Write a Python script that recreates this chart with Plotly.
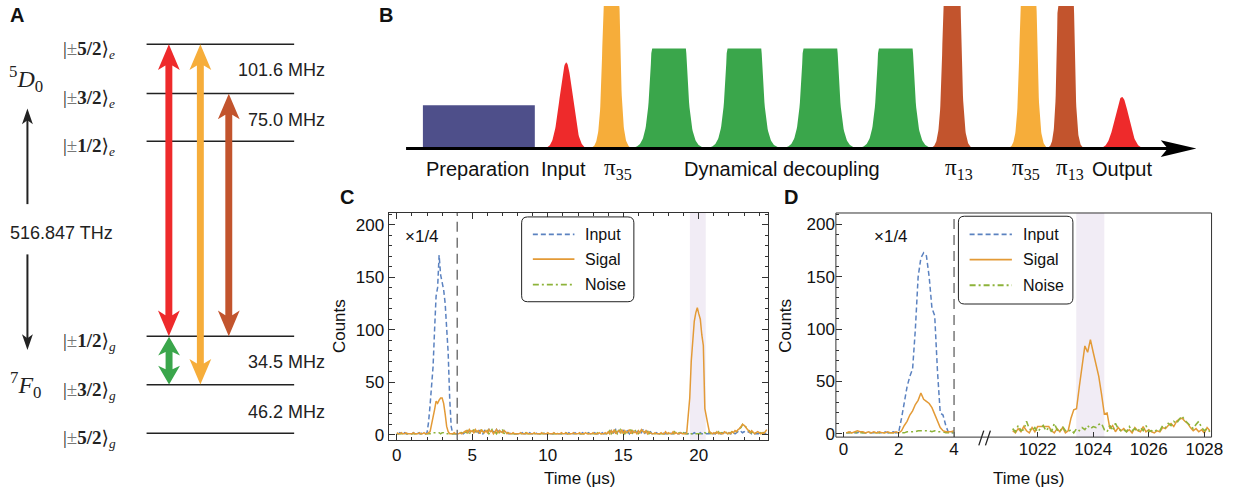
import numpy as np
import plotly.graph_objects as go

W, H = 1250, 502
SANS = "Liberation Sans, Arial, sans-serif"
SERIF = "Liberation Serif, DejaVu Serif, serif"

RED = "#EE2A2B"
ORANGE = "#F6AD3A"
BROWN = "#C2542D"
GREEN = "#3AA64B"
NAVY = "#4E4F8A"
C_IN = "#5B82C0"
C_SIG = "#E39A36"
C_NOISE = "#8DB33A"

# ---------------- Panel C data (0.1 us bins starting at 0) ----------------
c_input = [
 1,1,2,1,1,2,1,1,2,1,
 1,2,1,1,2,1,1,2,1,1,
 2,12,28,45,65,100,132,140,171,152,
 145,138,125,100,78,35,8,1,1,1,
 1,1,1,2,1,2,3,2,4,3,
 2,4,3,5,2,4,3,1,4,2,
 3,5,2,4,3,2,5,3,4,2,
 3,4,2,3,1,1,2,1,1,1,
 1,1,1,2,1,1,1,1,2,1,
 1,1,2,1,1,1,1,2,1,1,
 1,2,1,1,1,2,1,1,1,1,
 2,1,1,1,2,1,1,1,2,1,
 1,1,1,2,1,1,1,2,1,1,
 1,2,1,1,1,1,2,1,1,2,
 3,2,4,1,3,5,2,4,3,2,
 4,2,5,3,1,4,2,5,3,2,
 4,3,2,5,1,3,4,2,3,1,
 1,1,2,1,1,1,2,1,1,1,
 1,2,1,1,2,1,1,1,2,1,
 1,2,1,1,2,1,1,2,1,1,
 1,2,1,1,2,1,1,1,2,1,
 1,1,2,1,1,1,2,1,1,1,
 2,1,1,2,1,2,3,2,3,2,
 3,2,2,3,2,1,2,1,1,1,
 1,1,1,2,1,2]
c_signal = [
 2,1,1,2,1,1,2,1,1,1,
 1,2,1,1,1,2,1,1,2,1,
 1,2,3,10,16,24,32,30,33,35,
 35,30,20,8,3,1,1,1,2,1,
 1,1,2,1,2,3,4,2,5,3,
 4,2,5,3,4,1,5,3,2,4,
 2,5,3,4,1,3,5,2,4,3,
 2,4,3,1,2,1,1,2,1,1,
 1,1,2,1,1,1,2,1,1,1,
 1,2,1,1,1,1,2,1,1,1,
 2,1,1,1,2,1,1,1,1,2,
 1,1,2,1,1,1,1,2,1,1,
 1,2,1,1,1,2,1,1,1,1,
 2,1,1,1,2,1,1,1,2,1,
 3,1,4,2,5,1,3,4,2,5,
 1,4,2,3,5,1,4,2,3,1,
 4,2,5,3,2,4,1,3,2,1,
 1,2,1,1,1,2,1,1,3,1,
 2,1,1,3,1,2,1,1,2,1,
 1,1,2,20,35,70,95,108,116,121,
 115,110,95,85,25,16,10,3,2,1,
 2,1,3,1,2,1,1,3,2,1,
 2,1,3,2,4,3,5,6,8,10,
 9,7,5,3,2,4,2,1,2,3,
 2,1,2,1,3,5]
c_noise = [
 1,1,1,1,1,1,1,1,1,1,
 1,1,1,1,1,1,1,1,1,1,
 1,1,1,1,2,2,2,2,2,1,
 2,2,1,1,1,1,1,1,1,1,
 1,1,1,2,1,3,2,4,1,3,
 2,5,1,3,4,2,5,1,3,2,
 4,1,3,5,2,3,1,4,2,3,
 5,1,3,2,1,1,1,1,1,1,
 1,1,1,1,1,2,1,1,1,1,
 1,1,1,1,1,1,1,1,2,1,
 1,1,1,1,1,1,1,2,1,1,
 1,1,2,1,1,1,1,1,1,1,
 1,1,1,1,1,1,2,1,1,1,
 1,1,1,2,1,1,1,1,1,1,
 2,4,1,3,2,4,1,3,5,2,
 3,1,4,2,3,5,1,3,4,2,
 1,3,4,2,3,2,4,1,2,1,
 1,1,1,1,1,1,1,1,2,1,
 1,1,2,1,3,1,1,2,1,1,
 2,1,1,1,2,1,1,1,1,1,
 1,1,1,1,2,1,1,3,1,2,
 1,2,1,3,1,2,1,1,2,3,
 1,2,3,2,4,3,5,6,7,10,
 9,8,6,4,3,2,3,1,2,2,
 1,2,1,2,3,2]
c_time = np.round(0.1 * np.arange(len(c_input)), 2)

# ---------------- Panel D data ----------------
d_left_time = np.round(0.1 + 0.1 * np.arange(40), 2)
d_input = [
 1,1,2,1,1,2,1,1,2,1,
 1,2,1,1,2,1,1,2,1,2,
 15,30,45,55,62,100,150,168,173,170,
 150,120,113,60,20,18,8,1,1,1]
d_signal_left = [
 1,2,1,2,3,2,2,1,2,1,
 2,1,2,1,1,2,1,1,2,1,
 3,8,12,18,22,28,32,39,33,31,
 29,25,19,12,6,3,2,2,2,3]
d_noise_left = [
 1,1,1,1,1,1,1,1,1,1,
 1,1,1,1,1,1,1,1,1,1,
 1,1,2,2,2,2,3,3,3,3,
 3,2,3,2,2,2,1,1,1,1]
d_right_time = np.round(1021.1 + 0.1 * np.arange(72), 2)
d_signal_right = [
 3,1,5,2,7,3,1,6,2,7,
 7,7,7,7,3,1,5,2,6,1,
 3,15,23,24,45,65,84,78,90,78,
 66,55,38,19,20,5,8,2,6,3,
 5,2,4,1,6,3,2,7,2,4,
 2,1,3,2,6,5,8,10,7,12,
 14,15,12,10,6,3,5,2,4,1,
 6,3]
d_noise_right = [
 5,2,8,3,4,12,5,3,6,2,
 5,8,3,6,2,10,4,2,7,3,
 2,4,1,5,3,6,4,8,5,7,
 6,9,10,4,2,8,3,10,5,3,
 4,2,7,3,5,2,6,3,8,2,
 3,2,4,3,8,6,10,8,12,10,
 14,17,13,10,8,5,9,12,6,3,
 5,2]

# ---------------- Panel A / B schematic values ----------------
level_y = [45, 94.7, 143.3, 341, 390.3, 439.3]
PM = "<span style='color:#777'>±</span>"
level_labels = [f"|{PM}<b>5/2</b>⟩<sub><i>e</i></sub>", f"|{PM}<b>3/2</b>⟩<sub><i>e</i></sub>",
                f"|{PM}<b>1/2</b>⟩<sub><i>e</i></sub>", f"|{PM}<b>1/2</b>⟩<sub><i>g</i></sub>",
                f"|{PM}<b>3/2</b>⟩<sub><i>g</i></sub>", f"|{PM}<b>5/2</b>⟩<sub><i>g</i></sub>"]
splitting_labels = ["101.6 MHz", "75.0 MHz", "34.5 MHz", "46.2 MHz"]
splitting_y = [71, 122, 367, 418]

flat_centers = [617.2, 675.3, 751.4, 828.1, 904.2, 961.1, 1038.3, 1076.1]
flat_colors = [ORANGE, GREEN, GREEN, GREEN, GREEN, BROWN, ORANGE, BROWN]
flat_tops = [6, 49.3, 49.3, 49.3, 49.3, 6, 6, 6]
flat_half = [8.3, 17.5, 17.5, 17.5, 17.5, 8.9, 8.3, 8.3]
flat_foot = [2.3, 3.8, 3.8, 3.8, 3.8, 2.3, 2.2, 1.9]
gauss_centers = [571.7, 1132.8]
gauss_tops = [63.3, 98.3]
gauss_sigma = [6.5, 7.0]
b_labels = ["Preparation", "Input", "π<sub>35</sub>", "Dynamical decoupling",
            "π<sub>13</sub>", "π<sub>35</sub>", "π<sub>13</sub>", "Output"]
b_label_x = [482, 569, 624, 790, 968, 1036, 1080, 1133]
BASE = 150.7


def fx(p):
    return p / W


def fy(p):
    return 1 - p / H


fig = go.Figure()

# ---------------- Panel B pulses (canvas axes) ----------------
for c, col, top, a, s in zip(flat_centers, flat_colors, flat_tops, flat_half, flat_foot):
    xs = np.linspace(c - a - 5 * s, c + a + 5 * s, 160)
    d = np.abs(xs - c)
    prof = np.where(d <= a, 1.0, np.exp(-(d - a) / s))
    ys = BASE - (BASE - top) * prof
    fig.add_trace(go.Scatter(x=np.r_[xs, xs[::-1]], y=np.r_[ys, np.full(len(xs), BASE)],
                             fill="toself", fillcolor=col, line=dict(width=0), mode="lines",
                             hoverinfo="skip", xaxis="x", yaxis="y"))
for c, top, sg in zip(gauss_centers, gauss_tops, gauss_sigma):
    xs = np.linspace(c - 4 * sg, c + 4 * sg, 120)
    ys = BASE - (BASE - top) * np.exp(-0.5 * ((xs - c) / sg) ** 2)
    fig.add_trace(go.Scatter(x=np.r_[xs, xs[::-1]], y=np.r_[ys, np.full(len(xs), BASE)],
                             fill="toself", fillcolor=RED, line=dict(width=0), mode="lines",
                             hoverinfo="skip", xaxis="x", yaxis="y"))

# ---------------- Panel C traces ----------------
fig.add_trace(go.Scatter(x=c_time, y=c_input, mode="lines", name="Input",
                         line=dict(color=C_IN, width=1.5, dash="5px,3px"), xaxis="x2", yaxis="y2"))
fig.add_trace(go.Scatter(x=c_time, y=c_noise, mode="lines", name="Noise",
                         line=dict(color=C_NOISE, width=1.5, dash="6px,3px,2px,3px"), xaxis="x2", yaxis="y2"))
fig.add_trace(go.Scatter(x=c_time, y=c_signal, mode="lines", name="Sigal",
                         line=dict(color=C_SIG, width=1.5), xaxis="x2", yaxis="y2"))

# ---------------- Panel D traces ----------------
fig.add_trace(go.Scatter(x=d_left_time, y=d_input, mode="lines", name="Input",
                         line=dict(color=C_IN, width=1.5, dash="5px,3px"), xaxis="x3", yaxis="y3"))
fig.add_trace(go.Scatter(x=d_left_time, y=d_noise_left, mode="lines", name="Noise",
                         line=dict(color=C_NOISE, width=1.5, dash="6px,3px,2px,3px"), xaxis="x3", yaxis="y3"))
fig.add_trace(go.Scatter(x=d_left_time, y=d_signal_left, mode="lines", name="Sigal",
                         line=dict(color=C_SIG, width=1.5), xaxis="x3", yaxis="y3"))
fig.add_trace(go.Scatter(x=d_right_time, y=d_signal_right, mode="lines", name="Sigal",
                         line=dict(color=C_SIG, width=1.5), xaxis="x4", yaxis="y4"))
fig.add_trace(go.Scatter(x=d_right_time, y=d_noise_right, mode="lines", name="Noise",
                         line=dict(color=C_NOISE, width=1.6, dash="6px,3px,2px,3px"), xaxis="x4", yaxis="y4"))

shapes = []
annotations = []


def ann(x, y, text, size=18, family=SANS, xanchor="center", yanchor="middle", color="#222", **kw):
    annotations.append(dict(x=x, y=y, xref="x", yref="y", text=text, showarrow=False,
                            xanchor=xanchor, yanchor=yanchor,
                            font=dict(family=family, size=size, color=color), **kw))


def path(points, color, close=True):
    d = "M " + " L ".join(f"{x:.2f},{y:.2f}" for x, y in points) + (" Z" if close else "")
    shapes.append(dict(type="path", path=d, xref="x", yref="y", fillcolor=color,
                       line=dict(width=0), layer="above"))


def double_arrow(x, y_top, y_bot, color, sw=7, hw=22, hl=26):
    s, h = sw / 2, hw / 2
    j = hl * 0.82
    pts = [(x, y_top), (x + h, y_top + hl), (x + s, y_top + j), (x + s, y_bot - j),
           (x + h, y_bot - hl), (x, y_bot), (x - h, y_bot - hl), (x - s, y_bot - j),
           (x - s, y_top + j), (x - h, y_top + hl)]
    path(pts, color)


def thin_arrow(x, y_tail, y_tip, color="#222"):
    sgn = 1 if y_tip > y_tail else -1
    hl, h = 16, 5.5
    shapes.append(dict(type="line", x0=x, x1=x, y0=y_tail, y1=y_tip - sgn * hl * 0.6,
                       xref="x", yref="y", line=dict(color=color, width=2)))
    path([(x, y_tip), (x + h, y_tip - sgn * hl), (x, y_tip - sgn * hl * 0.75),
          (x - h, y_tip - sgn * hl)], color)


# ---------------- Panel A ----------------
for y in level_y:
    shapes.append(dict(type="line", x0=148, x1=297, y0=y, y1=y, xref="x", yref="y",
                       line=dict(color="#222", width=1.5)))
for y, t in zip(level_y, level_labels):
    ann(62, y + 6, t, size=19, family=SERIF, xanchor="left")
for y, t in zip(splitting_y, splitting_labels):
    ann(330, y, t, size=18, xanchor="right")
ann(26, 80, "<sup>5</sup><i>D</i><sub>0</sub>", size=24, family=SERIF)
ann(26, 390, "<sup>7</sup><i>F</i><sub>0</sub>", size=24, family=SERIF)
ann(62, 236, "516.847 THz", size=18)
thin_arrow(27.7, 207, 110)
thin_arrow(27.7, 258, 355)
double_arrow(170.5, 45, 341, RED)
double_arrow(202.3, 45, 390, ORANGE)
double_arrow(231, 95, 341, BROWN)
double_arrow(170.7, 341.5, 390, GREEN, hl=19)

# ---------------- Panel B ----------------
shapes.append(dict(type="rect", x0=427, x1=540, y0=106.7, y1=BASE, xref="x", yref="y",
                   fillcolor=NAVY, line=dict(width=0), layer="below"))
shapes.append(dict(type="line", x0=410, x1=1180, y0=BASE, y1=BASE, xref="x", yref="y",
                   line=dict(color="black", width=3)))
path([(1208, BASE), (1172, BASE - 8.5), (1179, BASE), (1172, BASE + 8.5)], "black")
for x, t in zip(b_label_x, b_labels):
    fam = SERIF if t.startswith("π") else SANS
    ann(x, 171, t, size=23 if fam == SERIF else 20, family=fam, color="#111")

# panel letters
for x, y, t in [(17, 15, "A"), (390, 15, "B"), (350, 200, "C"), (799, 200, "D")]:
    ann(x, y, f"<b>{t}</b>", size=20, color="#111")

# ---------------- C/D decorations ----------------
SHADE = "#F1ECF5"
shapes.append(dict(type="rect", xref="x2", yref="y2 domain", x0=19.41, x1=20.46, y0=0, y1=1,
                   fillcolor=SHADE, line=dict(width=0), layer="below"))
shapes.append(dict(type="rect", xref="x4", yref="y4 domain", x0=1023.39, x1=1024.4, y0=0, y1=1,
                   fillcolor=SHADE, line=dict(width=0), layer="below"))
shapes.append(dict(type="line", xref="x2", yref="y2 domain", x0=4, x1=4, y0=0, y1=1,
                   line=dict(color="#777", width=1.5, dash="10px,6px")))
shapes.append(dict(type="line", xref="x3", yref="y3 domain", x0=4, x1=4, y0=0, y1=1,
                   line=dict(color="#777", width=1.5, dash="10px,6px")))
# D frame and axis-break marks
shapes.append(dict(type="rect", xref="paper", yref="paper", x0=fx(844), x1=fx(1223.3),
                   y0=fy(443.3), y1=fy(216), line=dict(color="#333", width=1)))
for x0 in [988.3, 995.0]:
    shapes.append(dict(type="line", xref="x", yref="y", x0=x0, x1=x0 + 5, y0=451.7, y1=436.7,
                       line=dict(color="#222", width=1.3)))


def rounded_box(x0, y0, x1, y1, r=6):
    d = (f"M {x0+r},{y0} L {x1-r},{y0} Q {x1},{y0} {x1},{y0+r} L {x1},{y1-r} "
         f"Q {x1},{y1} {x1-r},{y1} L {x0+r},{y1} Q {x0},{y1} {x0},{y1-r} "
         f"L {x0},{y0+r} Q {x0},{y0} {x0+r},{y0} Z")
    shapes.append(dict(type="path", path=d, xref="x", yref="y", fillcolor="white",
                       line=dict(color="#222", width=1), layer="above"))


legend_items = [("Input", C_IN, "5px,3px"), ("Sigal", C_SIG, "solid"), ("Noise", C_NOISE, "6px,3px,2px,3px")]


def legend(box, lx0, lx1, tx, ys):
    rounded_box(*box)
    for (name, col, dash), y in zip(legend_items, ys):
        shapes.append(dict(type="line", xref="x", yref="y", x0=lx0, x1=lx1, y0=y, y1=y,
                           line=dict(color=col, width=1.8, dash=dash), layer="above"))
        ann(tx, y, name, size=16, xanchor="left", color="#111")


legend((526.7, 220, 640, 306), 538, 580, 589, [237.7, 262.7, 288.7])
legend((967.7, 219.3, 1083.3, 308.3), 979, 1021.7, 1031, [237.7, 263.3, 289.3])

ann(426, 240, "×1/4", size=17, color="#111")
ann(900, 240, "×1/4", size=17, color="#111")
ann(586, 485, "Time (μs)", size=17, color="#111")
ann(1039, 485, "Time (μs)", size=17, color="#111")
ann(343, 331, "Counts", size=17, color="#111", textangle=-90)
ann(793, 330, "Counts", size=17, color="#111", textangle=-90)

TF = dict(family=SANS, size=17, color="#111")
base_ax = dict(showgrid=False, zeroline=False, ticks="inside", tickcolor="#333", tickfont=TF,
               fixedrange=True)

layout = dict(
    width=W, height=H, margin=dict(l=0, r=0, t=0, b=0), showlegend=False,
    paper_bgcolor="white", plot_bgcolor="rgba(0,0,0,0)",
    xaxis=dict(domain=[0, 1], range=[0, W], visible=False, anchor="y", fixedrange=True),
    yaxis=dict(domain=[0, 1], range=[H, 0], visible=False, anchor="x", fixedrange=True),
    xaxis2=dict(base_ax, domain=[fx(392.3), fx(775.7)], anchor="y2", range=[-0.55, 24.6],
                tickvals=[0, 5, 10, 15, 20], ticklen=6, showline=True, linecolor="#333",
                linewidth=1, mirror="allticks",
                minor=dict(ticks="inside", dtick=1, tick0=0, ticklen=3, tickcolor="#333")),
    yaxis2=dict(base_ax, domain=[fy(446), fy(216)], anchor="x2", range=[-4.7, 211],
                tickvals=[0, 50, 100, 150, 200], ticklen=6, showline=True, linecolor="#333",
                linewidth=1, mirror="allticks",
                minor=dict(ticks="inside", dtick=10, tick0=0, ticklen=3, tickcolor="#333")),
    xaxis3=dict(base_ax, domain=[fx(844), fx(1000)], anchor="y3", range=[-0.275, 5.315],
                tickvals=[0, 2, 4], ticklen=5, showline=False),
    xaxis4=dict(base_ax, domain=[fx(1000), fx(1223.3)], anchor="y4", range=[1020.30, 1028.26],
                tickvals=[1022, 1024, 1026, 1028], ticklen=5, showline=False),
    yaxis3=dict(base_ax, domain=[fy(443.3), fy(216)], anchor="x3", range=[-3.1, 211],
                tickvals=[0, 50, 100, 150, 200], ticklen=6, showline=False,
                minor=dict(ticks="inside", dtick=10, tick0=0, ticklen=3, tickcolor="#333")),
    yaxis4=dict(domain=[fy(443.3), fy(216)], anchor="x4", range=[-3.1, 211], visible=False,
                fixedrange=True),
    shapes=shapes, annotations=annotations,
)
fig.update_layout(**layout)
css_js = ("var s=document.createElement('style');"
          "s.textContent='html,body{margin:0;padding:0;overflow:hidden;}';"
          "document.head.appendChild(s);")
fig.write_html("out.html", config={"displayModeBar": False},
               post_script=css_js)
